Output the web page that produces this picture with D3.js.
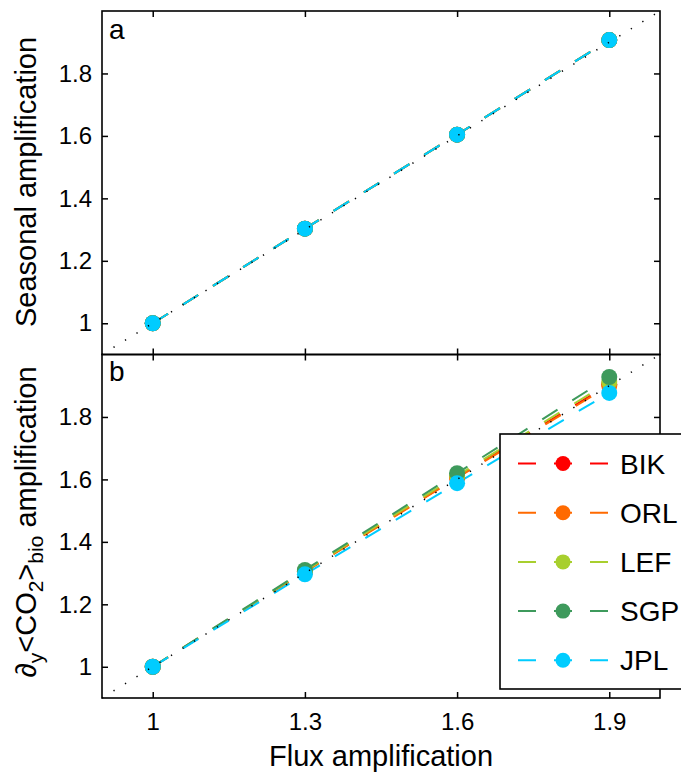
<!DOCTYPE html>
<html><head><meta charset="utf-8">
<script src="https://cdn.jsdelivr.net/npm/d3@7"></script>
<style>body{margin:0;background:#fff}text{font-family:"Liberation Sans",Arial,Helvetica,sans-serif;fill:#000}</style>
</head><body><svg id="c" width="681" height="772"></svg>
<script>
const fluxAmp = [1, 1.3, 1.6, 1.9];
const seriesNames = ["BIK", "ORL", "LEF", "SGP", "JPL"];
const seriesColors = ["#ff0000", "#ff6a00", "#a8cf2e", "#3e9a5c", "#00ccff"];
// panel a: seasonal amplification
const seasBIK = [1, 1.303, 1.604, 1.907];
const seasORL = [1, 1.303, 1.604, 1.907];
const seasLEF = [1, 1.303, 1.604, 1.907];
const seasSGP = [1, 1.303, 1.604, 1.907];
const seasJPL = [1, 1.303, 1.604, 1.907];
// panel b: gradient amplification
const gradBIK = [1, 1.305, 1.607, 1.905];
const gradORL = [1, 1.304, 1.605, 1.900];
const gradLEF = [1, 1.307, 1.612, 1.912];
const gradSGP = [1, 1.310, 1.620, 1.928];
const gradJPL = [1, 1.296, 1.588, 1.877];
const xTicks = [1, 1.3, 1.6, 1.9];
const xTickLabels = ["1", "1.3", "1.6", "1.9"];
const yTicks = [1, 1.2, 1.4, 1.6, 1.8];
const yTickLabels = ["1", "1.2", "1.4", "1.6", "1.8"];
const domain = [0.9, 2.0];

const seasSeries = [seasBIK, seasORL, seasLEF, seasSGP, seasJPL];
const gradSeries = [gradBIK, gradORL, gradLEF, gradSGP, gradJPL];

const svg = d3.select("#c");
const L = 102, R = 660;
const x = d3.scaleLinear().domain(domain).range([L, R]);
const panels = [
  {top: 11, bottom: 354.5, data: seasSeries, letter: "a"},
  {top: 354.5, bottom: 698, data: gradSeries, letter: "b"}
];

panels.forEach((p, pi) => {
  const y = d3.scaleLinear().domain(domain).range([p.bottom, p.top]);
  const g = svg.append("g");
  const line = d3.line().x((d, i) => x(fluxAmp[i])).y(d => y(d));
  p.data.forEach((vals, si) => {
    g.append("path").attr("d", line(vals)).attr("fill", "none")
      .attr("stroke", seriesColors[si]).attr("stroke-width", 2)
      .attr("stroke-dasharray", "18,17.5");
  });
  p.data.forEach((vals, si) => {
    g.selectAll(null).data(vals).enter().append("circle")
      .attr("cx", (d, i) => x(fluxAmp[i])).attr("cy", d => y(d)).attr("r", 8)
      .attr("fill", seriesColors[si]);
  });
  g.append("path").attr("d", d3.line()([[x(domain[0]), y(domain[0])], [x(domain[1]), y(domain[1])]]))
    .attr("stroke", "#000").attr("stroke-width", 1.5).attr("stroke-dasharray", "1.3,12.2").attr("fill", "none");

  const ax = svg.append("g");
  ax.append("g").attr("transform", `translate(${L},0)`)
    .call(d3.axisLeft(y).tickValues(yTicks).tickFormat((d, i) => yTickLabels[i]).tickSizeInner(-6).tickSizeOuter(0).tickPadding(10));
  ax.append("g").attr("transform", `translate(${R},0)`)
    .call(d3.axisRight(y).tickValues(yTicks).tickFormat("").tickSizeInner(-6).tickSizeOuter(0));
  ax.append("g").attr("transform", `translate(0,${p.top})`)
    .call(d3.axisTop(x).tickValues(xTicks).tickFormat("").tickSizeInner(-6).tickSizeOuter(0));
  ax.append("g").attr("transform", `translate(0,${p.bottom})`)
    .call(d3.axisBottom(x).tickValues(xTicks).tickFormat(pi === 1 ? ((d, i) => xTickLabels[i]) : "").tickSizeInner(-6).tickSizeOuter(0).tickPadding(15));
  ax.selectAll(".domain").remove();
  ax.selectAll("line").attr("stroke", "#000").attr("stroke-width", 1.5);
  ax.selectAll("text").attr("font-family", '"Liberation Sans",Arial,sans-serif').attr("font-size", 24).attr("fill", "#000");
  svg.append("rect").attr("x", L).attr("y", p.top).attr("width", R - L).attr("height", p.bottom - p.top)
    .attr("fill", "none").attr("stroke", "#000").attr("stroke-width", 1.6);
  svg.append("text").attr("x", 109).attr("y", p.top + (pi === 0 ? 28 : 26.5)).attr("font-size", 28).text(p.letter);
});

svg.append("text").attr("transform", "translate(36,182) rotate(-90)").attr("text-anchor", "middle")
  .attr("font-size", 29).text("Seasonal amplification");
const yl = svg.append("text").attr("transform", "translate(36,522) rotate(-90)").attr("text-anchor", "middle").attr("font-size", 29);
yl.append("tspan").text("\u2202");
yl.append("tspan").attr("font-size", 21).attr("dy", 7).text("y");
yl.append("tspan").attr("dy", -7).text("<CO");
yl.append("tspan").attr("font-size", 21).attr("dy", 7).text("2");
yl.append("tspan").attr("dy", -7).text(">");
yl.append("tspan").attr("font-size", 21).attr("dy", 7).text("bio");
yl.append("tspan").attr("dy", -7).text(" amplification");

svg.append("text").attr("x", 381).attr("y", 766).attr("text-anchor", "middle").attr("font-size", 29).text("Flux amplification");

const lg = svg.append("g");
lg.append("rect").attr("x", 500).attr("y", 434).attr("width", 200).attr("height", 255)
  .attr("fill", "#fff").attr("stroke", "#000").attr("stroke-width", 1.6);
seriesNames.forEach((n, i) => {
  const yy = 463.5 + i * 49.2;
  lg.append("line").attr("x1", 518).attr("x2", 608).attr("y1", yy).attr("y2", yy)
    .attr("stroke", seriesColors[i]).attr("stroke-width", 2).attr("stroke-dasharray", "18,18");
  lg.append("circle").attr("cx", 563).attr("cy", yy).attr("r", 7.5).attr("fill", seriesColors[i]);
  lg.append("text").attr("x", 620).attr("y", yy + 10).attr("font-size", 28).text(n);
});
</script></body></html>
